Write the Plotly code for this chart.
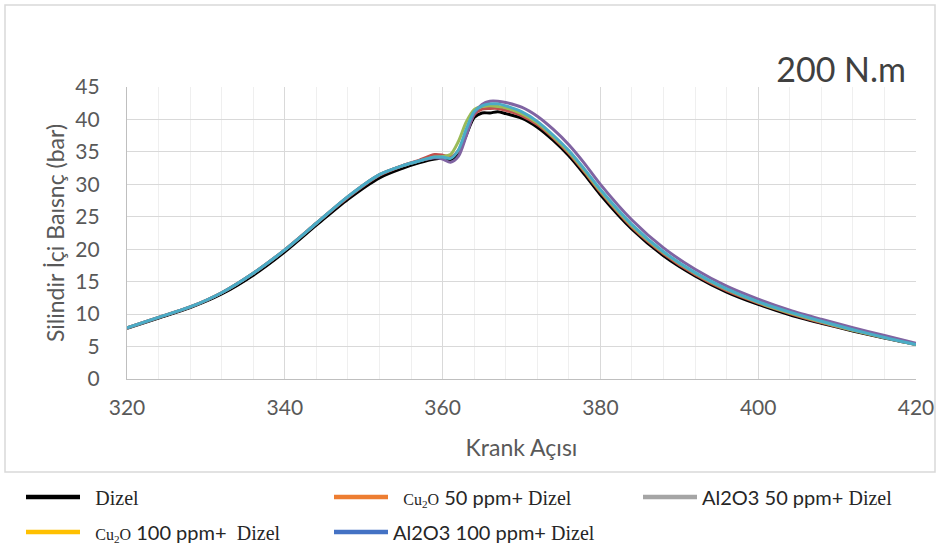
import plotly.graph_objects as go

# Crank angle (deg)
crank = [320, 324, 328, 332, 336, 340, 344, 348, 352, 355, 357, 359, 360, 361, 362, 363, 364,
         365, 366, 367, 368, 370, 372, 374, 376, 378, 380, 384, 388, 392, 396, 400, 404, 408,
         412, 416, 420]

dizel = [7.8, 9.4, 11.0, 13.1, 16.0, 19.6, 23.7, 27.7, 31.0, 32.5, 33.3, 33.9, 34.0, 33.8, 34.8,
         37.6, 40.3, 41.0, 41.0, 41.2, 40.9, 40.2, 38.8, 36.8, 34.4, 31.5, 28.4, 23.1, 19.0, 15.9,
         13.4, 11.5, 9.9, 8.6, 7.4, 6.3, 5.3]
cu2o_50 = [7.9, 9.5, 11.1, 13.3, 16.3, 19.9, 24.0, 28.0, 31.4, 32.9, 33.7, 34.6, 34.5, 34.2, 35.2,
           38.0, 40.7, 41.6, 41.7, 41.7, 41.4, 40.6, 39.2, 37.2, 34.8, 31.9, 28.8, 23.4, 19.3, 16.1,
           13.6, 11.7, 10.1, 8.7, 7.5, 6.4, 5.3]
al2o3_50 = [7.9, 9.5, 11.1, 13.3, 16.3, 19.9, 24.0, 28.1, 31.5, 32.9, 33.6, 34.2, 34.3, 34.6, 36.6,
            39.6, 41.5, 42.0, 42.1, 42.0, 41.8, 40.9, 39.5, 37.4, 35.0, 32.1, 29.0, 23.6, 19.5, 16.3,
            13.8, 11.8, 10.2, 8.8, 7.5, 6.4, 5.3]
cu2o_100 = [7.9, 9.5, 11.1, 13.3, 16.3, 19.9, 24.0, 28.1, 31.5, 32.9, 33.6, 34.1, 33.9, 33.4, 34.3,
            37.5, 40.9, 42.3, 42.8, 42.8, 42.6, 41.9, 40.5, 38.5, 36.1, 33.2, 30.0, 24.5, 20.2, 16.9,
            14.3, 12.3, 10.6, 9.2, 7.9, 6.7, 5.5]
al2o3_100 = [7.9, 9.5, 11.1, 13.3, 16.3, 19.9, 24.0, 28.1, 31.5, 32.9, 33.6, 34.2, 34.2, 34.0, 35.3,
             38.5, 41.2, 42.1, 42.4, 42.4, 42.1, 41.2, 39.7, 37.6, 35.2, 32.3, 29.2, 23.8, 19.6, 16.4,
             13.9, 11.9, 10.3, 8.9, 7.6, 6.4, 5.3]

series_names = ["Dizel", "Cu2O 50 ppm+ Dizel", "Al2O3 50 ppm+ Dizel",
                "Cu2O 100 ppm+ Dizel", "Al2O3 100 ppm+ Dizel"]
series_values = [dizel, cu2o_50, al2o3_50, cu2o_100, al2o3_100]
plot_colors = ["#000000", "#C0504D", "#9BBB59", "#8064A2", "#4BACC6"]

SERIF = "font-family:'Liberation Serif', serif"
legend_labels = [
    f"  <span style=\"{SERIF}\">Dizel</span>",
    f"  <span style=\"{SERIF};font-size:16px\">Cu<sub>2</sub>O</span> 50 ppm+ <span style=\"{SERIF}\">Dizel</span>",
    f"Al2O3 50 ppm+ <span style=\"{SERIF}\">Dizel</span>",
    f"  <span style=\"{SERIF};font-size:16px\">Cu<sub>2</sub>O</span> 100 ppm+  <span style=\"{SERIF}\">Dizel</span>",
    f"Al2O3 100 ppm+ <span style=\"{SERIF}\">Dizel</span>",
]
legend_colors = ["#000000", "#ED7D31", "#A5A5A5", "#FFC000", "#4472C4"]
legend_ids = ["legend", "legend2", "legend3", "legend4", "legend5"]
# legend line start (px from left) and row centre (px from top)
legend_px = [(27, 497), (335, 497), (644, 497), (27, 532), (335, 532)]

fig = go.Figure()
for name, vals, col in zip(series_names, series_values, plot_colors):
    fig.add_trace(go.Scatter(x=crank, y=vals, name=name, mode="lines",
                             line=dict(color=col, width=3, shape="spline", smoothing=0.8),
                             showlegend=False))

for lab, col, lid in zip(legend_labels, legend_colors, legend_ids):
    fig.add_trace(go.Scatter(x=[None], y=[None], name=lab, mode="lines",
                             line=dict(color=col, width=4.5), legend=lid))

TXT = "#595959"
FONT = "Lato, 'Open Sans', sans-serif"
W, H = 939, 550

legends = {}
for lid, (px, py) in zip(legend_ids, legend_px):
    legends[lid] = dict(orientation="h", xref="container", yref="container",
                        x=(px - 6) / W, xanchor="left", y=(H - py) / H, yanchor="middle",
                        itemwidth=54, font=dict(family=FONT, size=20, color="#262626"),
                        bgcolor="rgba(0,0,0,0)")

fig.update_layout(
    width=W, height=H,
    margin=dict(l=127, r=23, t=87, b=171, autoexpand=False),
    paper_bgcolor="white", plot_bgcolor="white",
    font=dict(family=FONT, color=TXT, size=21),
    title=dict(text="200 N.m", xref="container", yref="container", x=906 / W, xanchor="right",
               y=(H - 70) / H, yanchor="middle", font=dict(family=FONT, size=34, color="#404040")),
    xaxis=dict(range=[320, 420], dtick=20, tick0=320, showgrid=True, gridcolor="#D9D9D9",
               gridwidth=1.3, zeroline=False, showline=True, linecolor="#BFBFBF", linewidth=1.3,
               ticks="", tickfont=dict(size=21, color=TXT), ticklabelstandoff=10,
               minor=dict(dtick=4, tick0=320, showgrid=True, gridcolor="#EFEFEF", gridwidth=1.3),
               title=dict(text="Krank Açısı", font=dict(size=23, color=TXT), standoff=21)),
    yaxis=dict(range=[0, 45], dtick=5, tick0=0, showgrid=True, gridcolor="#D9D9D9", gridwidth=1.3,
               zeroline=False, showline=True, linecolor="#BFBFBF", linewidth=1.3, ticks="",
               tickfont=dict(size=21, color=TXT), ticklabelstandoff=22,
               title=dict(text="Silindir İçi Baısnç (bar)", font=dict(size=23, color=TXT), standoff=4)),
    shapes=[dict(type="rect", xref="paper", yref="paper",
                 x0=(5 - 127) / 789, x1=(935 - 127) / 789,
                 y0=(379 - 472) / 292, y1=(379 - 5) / 292,
                 line=dict(color="#D9D9D9", width=1.5), fillcolor="rgba(0,0,0,0)", layer="below")],
    **legends,
)

fig.write_html("out.html")
